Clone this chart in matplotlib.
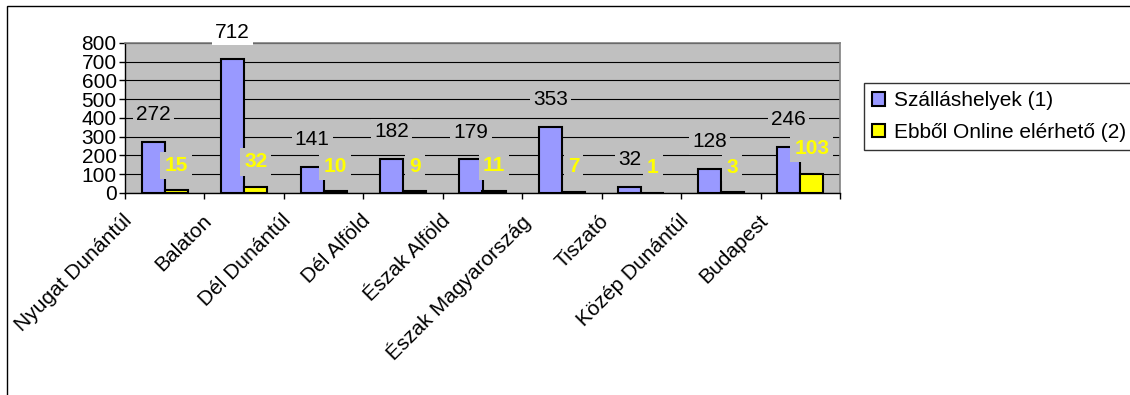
import numpy as np
import matplotlib
matplotlib.use('Agg')
import matplotlib.pyplot as plt
from matplotlib.patches import Rectangle
from matplotlib.transforms import ScaledTranslation

regions = ['Nyugat Dunántúl', 'Balaton', 'Dél Dunántúl', 'Dél Alföld', 'Észak Alföld',
           'Észak Magyarország', 'Tiszató', 'Közép Dunántúl', 'Budapest']
szallashelyek = [272, 712, 141, 182, 179, 353, 32, 128, 246]
online = [15, 32, 10, 9, 11, 7, 1, 3, 103]
series_names = ['Szálláshelyek (1)', 'Ebből Online elérhető (2)']
yticks = list(range(0, 801, 100))

plt.rcParams['font.family'] = ['Liberation Sans', 'DejaVu Sans']

W, H = 1130, 395
fig = plt.figure(figsize=(W / 100, H / 100), dpi=100)
ax = fig.add_axes([125 / W, 1 - 193 / H, 715 / W, 150 / H])
ax.set_facecolor('#C0C0C0')

x = np.arange(len(regions))
w = 0.29
b1 = ax.bar(x - w / 2, szallashelyek, w, color='#9999FF', edgecolor='black',
            linewidth=1.5, label=series_names[0])
b2 = ax.bar(x + w / 2, online, w, color='#FFFF00', edgecolor='black',
            linewidth=1.5, label=series_names[1])

ax.set_xlim(-0.5, len(regions) - 0.5)
ax.set_ylim(0, 800)
ax.set_yticks(yticks)
ax.yaxis.grid(True, color='black', linewidth=0.8)
ax.set_axisbelow(True)

# value labels
for xi, v in zip(x, szallashelyek):
    top = ax.transData.transform((0, v))[1] + 27
    fc = 'white' if top > ax.bbox.y1 - 6 else '#C0C0C0'
    ax.annotate(str(v), (xi - w / 2, v), xytext=(0, 19.5), textcoords='offset points',
                ha='center', va='center', fontsize=15,
                bbox=dict(boxstyle='square,pad=0.15', fc=fc, ec='none'))
for xi, v in zip(x, online):
    ax.annotate(str(v), (xi + w / 2, v), xytext=(0, 18), textcoords='offset points',
                ha='center', va='center', fontsize=15, fontweight='bold', color='#FFFF00',
                bbox=dict(boxstyle='square,pad=0.2', fc='#C0C0C0', ec='none'))

ax.set_xticks(x)
ax.set_xticklabels(regions, rotation=45, ha='right', va='top', rotation_mode='anchor', fontsize=15)
ax.set_xticks(np.arange(-0.5, len(regions)), minor=True)
ax.tick_params(axis='x', which='major', length=0, pad=13)
ax.tick_params(axis='x', which='minor', length=4, direction='out', width=1)
shift = ScaledTranslation(-42 / 100, 0, fig.dpi_scale_trans)
for lbl in ax.get_xticklabels():
    lbl.set_transform(lbl.get_transform() + shift)

ax.tick_params(axis='y', length=4, direction='out', labelsize=15, pad=2, width=1)

for s in ['left', 'bottom']:
    ax.spines[s].set_color('black')
    ax.spines[s].set_linewidth(1)
for s in ['top', 'right']:
    ax.spines[s].set_color('#808080')
    ax.spines[s].set_linewidth(1.2)

leg = fig.legend(handles=[b1, b2], loc='upper left', bbox_to_anchor=(864 / W, 1 - 83 / H),
                 borderaxespad=0, frameon=True, fancybox=False, edgecolor='black',
                 fontsize=15, handlelength=0.62, handleheight=0.62, handletextpad=0.43,
                 labelspacing=0.6, borderpad=0.4)
leg.get_frame().set_linewidth(1)

# outer chart border (only left and top visible)
fig.add_artist(Rectangle((7 / W, -0.5), 2, 1.5 - 6 / H, fill=False, ec='black', lw=1,
                         transform=fig.transFigure))

fig.savefig('out.png', dpi=100)
